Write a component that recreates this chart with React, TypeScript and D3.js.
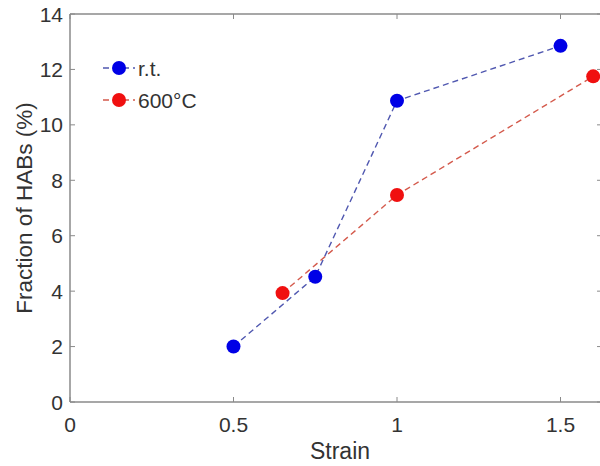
import React from "react";
import * as d3 from "d3";

const rtStrain = [0.5, 0.75, 1.0, 1.5];
const rtHAB = [2.0, 4.52, 10.87, 12.85];
const hotStrain = [0.65, 1.0, 1.6];
const hotHAB = [3.93, 7.47, 11.75];
const xTicks = [0, 0.5, 1, 1.5];
const yTicks = [0, 2, 4, 6, 8, 10, 12, 14];
const seriesNames = ["r.t.", "600°C"];

const W = 600, H = 466;
const left = 70, top = 14, bottom = 402;
const xMaxDomain = 1.627;

export default function App() {
  const x = d3.scaleLinear().domain([0, xMaxDomain]).range([left, left + xMaxDomain * 327]);
  const y = d3.scaleLinear().domain([0, 14]).range([bottom, top]);
  const right = x(xMaxDomain);
  const line = d3.line<[number, number]>().x(d => x(d[0])).y(d => y(d[1]));
  const rt: [number, number][] = rtStrain.map((s, i) => [s, rtHAB[i]]);
  const hot: [number, number][] = hotStrain.map((s, i) => [s, hotHAB[i]]);
  const axisCol = "#8a8a8a";
  const textCol = "#333";
  const font = "Liberation Sans, Arial, sans-serif";
  const series = [
    { data: rt, line: "#5058b0", fill: "#0000e6", name: seriesNames[0] },
    { data: hot, line: "#d45a4c", fill: "#f01010", name: seriesNames[1] },
  ];
  return (
    <svg width={W} height={H} style={{ position: "absolute", left: 0, top: 0, background: "#fff" }}>
      <rect x={0} y={0} width={W} height={H} fill="#fff" />
      <line x1={left} y1={bottom} x2={right} y2={bottom} stroke={axisCol} strokeWidth={1.5} />
      <line x1={left} y1={top} x2={right} y2={top} stroke={axisCol} strokeWidth={1.5} />
      <line x1={left} y1={top} x2={left} y2={bottom} stroke={axisCol} strokeWidth={1.5} />
      <line x1={right} y1={top} x2={right} y2={bottom} stroke={axisCol} strokeWidth={1.5} />
      {xTicks.map(t => (
        <g key={"x" + t}>
          <line x1={x(t)} x2={x(t)} y1={bottom} y2={bottom - 5} stroke={axisCol} />
          <line x1={x(t)} x2={x(t)} y1={top} y2={top + 5} stroke={axisCol} />
          <text x={x(t)} y={432} textAnchor="middle" fontSize={21} fill={textCol} fontFamily={font}>{t}</text>
        </g>
      ))}
      {yTicks.map(t => (
        <g key={"y" + t}>
          <line x1={left} x2={left + 5} y1={y(t)} y2={y(t)} stroke={axisCol} />
          <line x1={right} x2={right - 5} y1={y(t)} y2={y(t)} stroke={axisCol} />
          <text x={left - 7} y={y(t) + 7.5} textAnchor="end" fontSize={21} fill={textCol} fontFamily={font}>{t}</text>
        </g>
      ))}
      <text x={340} y={459} textAnchor="middle" fontSize={23} fill={textCol} fontFamily={font}>Strain</text>
      <text transform={`translate(32,208) rotate(-90)`} textAnchor="middle" fontSize={22.5} fill={textCol} fontFamily={font}>Fraction of HABs (%)</text>
      {series.map(s => (
        <g key={s.name}>
          <path d={line(s.data) || ""} fill="none" stroke={s.line} strokeWidth={1.4} strokeDasharray="6,4" />
          {s.data.map((d, i) => (
            <circle key={i} cx={x(d[0])} cy={y(d[1])} r={7} fill={s.fill} />
          ))}
        </g>
      ))}
      {series.map((s, i) => {
        const ly = 68 + i * 32;
        return (
          <g key={"lg" + s.name}>
            <line x1={103} x2={135} y1={ly} y2={ly} stroke={s.line} strokeWidth={1.4} strokeDasharray="6,4" />
            <circle cx={119} cy={ly} r={7} fill={s.fill} />
            <text x={138} y={ly + 7.5} fontSize={21} fill={textCol} fontFamily={font}>{s.name}</text>
          </g>
        );
      })}
    </svg>
  );
}
